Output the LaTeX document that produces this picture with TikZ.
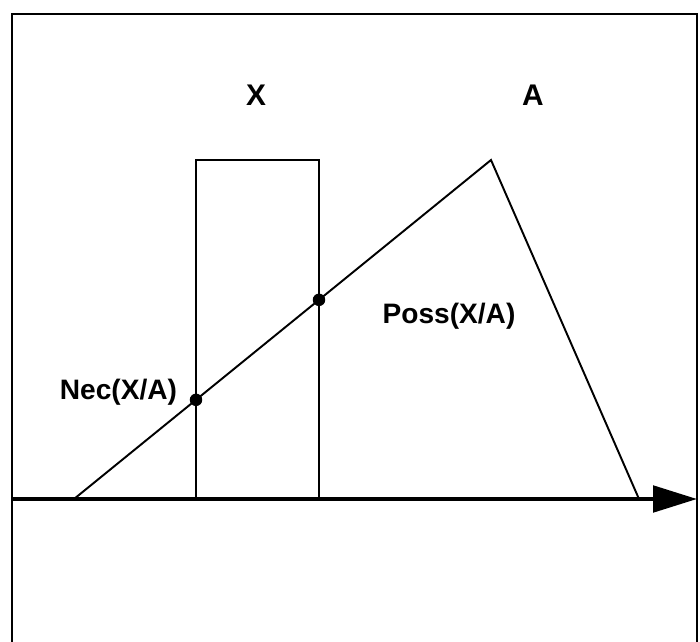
\documentclass[tikz,border=0pt]{standalone}
\usepackage{fontspec}
\setmainfont{Liberation Sans}
\usetikzlibrary{arrows.meta,calc}
\tikzset{
  lbl/.style={font=\bfseries\fontsize{16}{18}\selectfont, inner sep=0pt},
  biglbl/.style={font=\bfseries\fontsize{17}{20}\selectfont, inner sep=0pt},
  pt/.style={circle, fill=black, inner sep=0pt, minimum size=0.25cm}
}
\begin{document}
\begin{tikzpicture}[x=0.02cm, y=-0.02cm, line width=1.1pt]
    % page aux dimensions de l'image
    \useasboundingbox (0,0) rectangle (700,642);
    \def\axe{499}

    % cadre ouvert en bas
    \draw[line width=1.6pt] (12,642) -- (12,14) -- (697,14) -- (697,642);

    % ensemble X
    \draw (196,160) rectangle (319,\axe);

    % distribution A
    \coordinate (a0) at (74,\axe);
    \coordinate (a1) at (491,160);
    \coordinate (a2) at (639,\axe);
    \draw (a0) -- (a1) -- (a2);

    % points Nec et Poss
    \node[pt] (nec) at ($(a0)!122/417!(a1)$) {};
    \node[pt] (poss) at ($(a0)!245/417!(a1)$) {};

    % axe
    \draw[line width=2.3pt, -{Triangle[length=25pt,width=15pt]}] (12,\axe) -- (697,\axe);

    % textes
    \node[biglbl] (X) at (256,95) {X};
    \node[biglbl] (A) at (533,95) {A};
    \node[lbl, anchor=east] (neclbl) at (178,392) {Nec(X/A)};
    \node[lbl] (posslbl) at (449,316) {Poss(X/A)};
\end{tikzpicture}
\end{document}
